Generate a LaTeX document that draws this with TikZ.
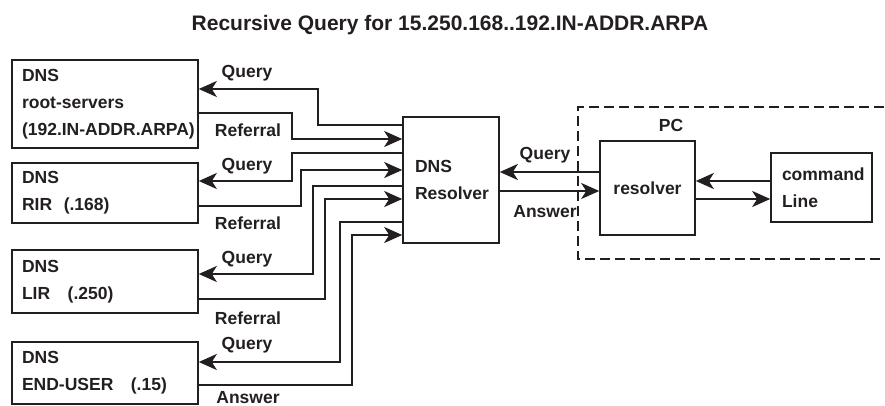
\documentclass[tikz,border=0pt]{standalone}
\usepackage{fontspec}
\setmainfont{Liberation Sans}
\usepackage{tikz}
\usetikzlibrary{arrows.meta}
\definecolor{ink}{HTML}{231F20}

\begin{document}
\begin{tikzpicture}[x=1pt,y=-1pt,
	font=\fontsize{17.5}{27}\selectfont\bfseries, color=ink,
	dnsbox/.style={draw=ink, line width=1.6pt, shape=rectangle, align=left, inner xsep=10pt, inner ysep=0pt},
	wire/.style={line width=2.5pt, -{Stealth[length=18pt,width=16pt,inset=5pt]}},
	lbl/.style={anchor=base, inner sep=0pt}]
	\useasboundingbox (0,0) rectangle (885,406);

	\node [lbl, font=\fontsize{21}{25}\selectfont\bfseries] (title) at (450,31) {Recursive Query for 15.250.168..192.IN-ADDR.ARPA};

	\node [dnsbox, text width=166pt, minimum height=88pt] (root) at (105,104) {DNS\\root-servers\\\mbox{(192.IN-ADDR.ARPA)}};
	\node [dnsbox, text width=166pt, minimum height=60pt] (rir) at (105,193) {DNS\\RIR\ \ (.168)};
	\node [dnsbox, text width=166pt, minimum height=63pt] (lir) at (105,281.5) {DNS\\LIR\ \ \ (.250)};
	\node [dnsbox, text width=166pt, minimum height=62pt] (enduser) at (105,373) {DNS\\END-USER\ \ \ (.15)};

	\node [dnsbox, inner xsep=12pt, text width=72pt, minimum height=126pt] (dnsres) at (451,180) {DNS\\Resolver};
	\node [dnsbox, inner xsep=0pt, text width=95pt, align=center, minimum height=94pt] (pcres) at (647.5,188) {resolver};
	\node [dnsbox, inner xsep=11pt, text width=79pt, minimum height=69pt] (cmdline) at (821.5,187.5) {command\\Line};

	% PC
	\draw [line width=1.6pt, dash pattern=on 10pt off 5pt] (884,107) -| (578,259) -- (884,259);
	\node [lbl] (pc) at (671,132) {PC};

	% root-servers
	\draw [wire] (dnsres.west |- 0,125) -| (318,89) -- (root.east |- 0,89);
	\draw [wire] (root.east |- 0,113) -| (292,139) -- (dnsres.west |- 0,139);
	\node [lbl] (q1) at (247,78) {Query};
	\node [lbl] (r1) at (248,137) {Referral};

	% RIR
	\draw [wire] (dnsres.west |- 0,153) -| (292,181) -- (rir.east |- 0,181);
	\draw [wire] (rir.east |- 0,206) -| (301,170) -- (dnsres.west |- 0,170);
	\node [lbl] (q2) at (247,171) {Query};
	\node [lbl] (r2) at (248,229) {Referral};

	% LIR
	\draw [wire] (dnsres.west |- 0,186) -| (313,274) -- (lir.east |- 0,274);
	\draw [wire] (lir.east |- 0,299) -| (325,199) -- (dnsres.west |- 0,199);
	\node [lbl] (q3) at (247,263) {Query};
	\node [lbl] (r3) at (248,324) {Referral};

	% END-USER
	\draw [wire] (dnsres.west |- 0,222) -| (340,362) -- (enduser.east |- 0,362);
	\draw [wire] (enduser.east |- 0,385) -| (352,235) -- (dnsres.west |- 0,235);
	\node [lbl] (q4) at (247,349) {Query};
	\node [lbl] (a4) at (248,403) {Answer};

	% PC side
	\draw [wire] (pcres.west |- 0,172) -- (dnsres.east |- 0,172);
	\draw [wire] (dnsres.east |- 0,191) -- (pcres.west |- 0,191);
	\node [lbl] (q5) at (545,160) {Query};
	\node [lbl] (a5) at (545,217) {Answer};
	\draw [wire] (cmdline.west |- 0,181) -- (pcres.east |- 0,181);
	\draw [wire] (pcres.east |- 0,199) -- (cmdline.west |- 0,199);
\end{tikzpicture}
\end{document}
